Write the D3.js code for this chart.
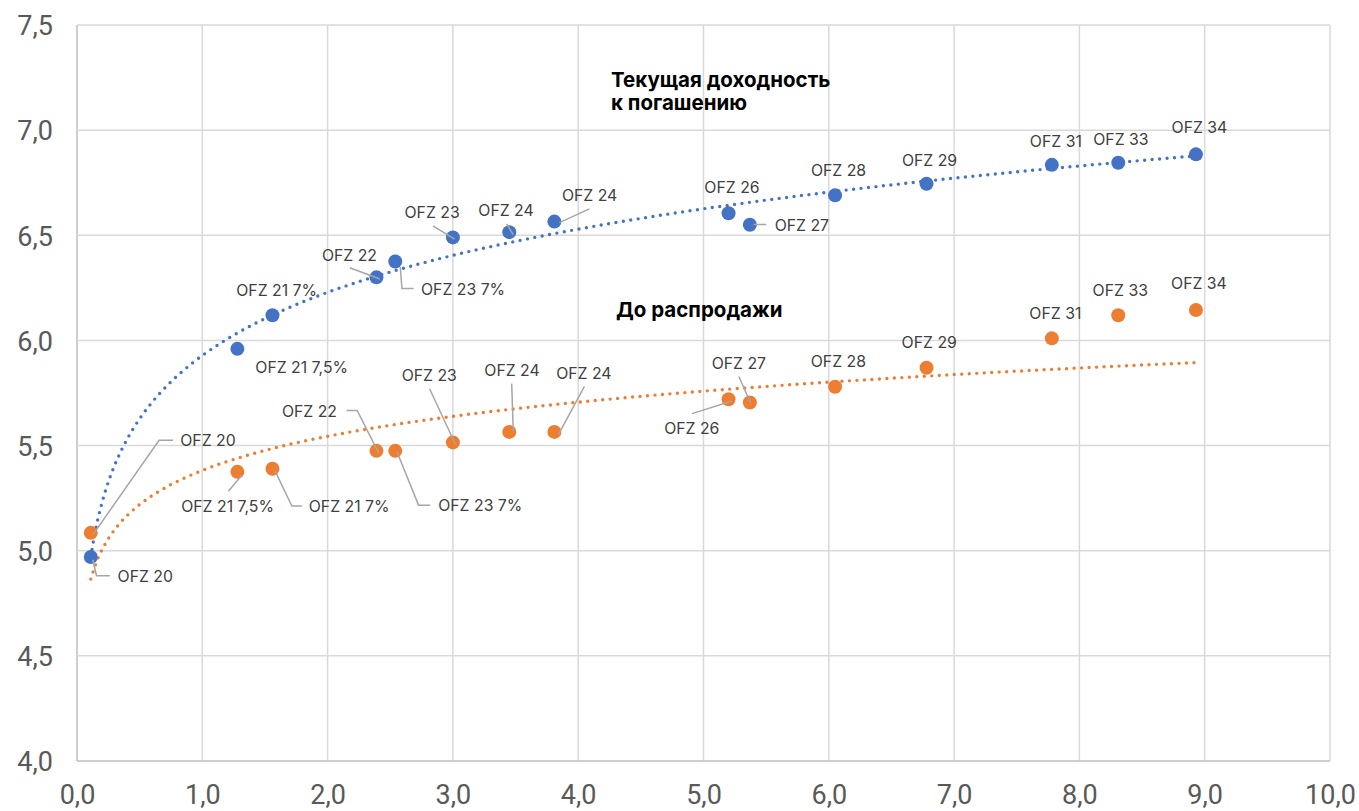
<!DOCTYPE html>
<html><head><meta charset="utf-8">
<script src="https://cdn.jsdelivr.net/npm/d3@7"></script>
<style>
html,body{margin:0;padding:0;background:#fff;}
svg{display:block;font-family:Inter,Roboto,"Noto Sans",sans-serif;}
</style></head>
<body><svg id="chart" width="1359" height="811"></svg>
<script>
// ---- data ----
const bonds = ["OFZ 20","OFZ 21 7,5%","OFZ 21 7%","OFZ 22","OFZ 23 7%","OFZ 23","OFZ 24","OFZ 24","OFZ 26","OFZ 27","OFZ 28","OFZ 29","OFZ 31","OFZ 33","OFZ 34"];
const duration = [0.11,1.28,1.56,2.39,2.54,3.00,3.45,3.81,5.20,5.37,6.05,6.78,7.78,8.31,8.93];
const ytmCurrent = [4.97,5.96,6.12,6.30,6.375,6.49,6.515,6.565,6.605,6.55,6.69,6.745,6.835,6.845,6.885];
const ytmBefore = [5.085,5.375,5.39,5.475,5.475,5.515,5.565,5.565,5.72,5.705,5.78,5.87,6.01,6.12,6.145];
const xTicks = [0,1,2,3,4,5,6,7,8,9,10];
const yTicks = [4.0,4.5,5.0,5.5,6.0,6.5,7.0,7.5];
const seriesNames = ["Текущая доходность к погашению","До распродажи"];

// ---- label layout (pixel offsets from the marker) ----
const labelsCurrent = [
  {dx:54.5,dy:25.4,lead:[[2,2.7],[5.7,18.7],[19,18.7]]},
  {dx:64.3,dy:23.7},
  {dx:4.2,dy:-19.3},
  {dx:-27,dy:-16.3,lead:[[-26.7,-9.6],[3.3,1.7]]},
  {dx:67.8,dy:33,lead:[[5,5.4],[6.7,27],[18.3,27]]},
  {dx:-20.8,dy:-19.6,lead:[[-20,-11.6],[1.7,1.7]]},
  {dx:-3.3,dy:-16.6,lead:[[-2.6,-8.3],[4,2.7]]},
  {dx:35.2,dy:-20.7,lead:[[35,-12.7],[5,1]]},
  {dx:3.4,dy:-20},
  {dx:52,dy:6.7,lead:[[3.6,-0.3],[16.4,-0.3]]},
  {dx:3.5,dy:-19},
  {dx:3,dy:-17.5},
  {dx:4,dy:-17.7},
  {dx:2.7,dy:-17.7},
  {dx:3.5,dy:-21}
];
const labelsBefore = [
  {dx:117.2,dy:-86.6,lead:[[2.3,1.7],[68.3,-92.6],[82.3,-92.6]]},
  {dx:-9.8,dy:40,lead:[[-9,19.3],[4.4,3.3]]},
  {dx:76.7,dy:43.4,lead:[[2.7,2.4],[19.4,37.4],[29.4,37.4]]},
  {dx:-67,dy:-34.3,lead:[[-30,-40.3],[-19.3,-40.3],[2.3,2.3]]},
  {dx:85,dy:60,lead:[[1.7,1],[23.3,54.3],[35,54.3]]},
  {dx:-23.6,dy:-61,lead:[[-23.3,-53.7],[2.7,2.3]]},
  {dx:2.7,dy:-55.6,lead:[[2.4,-48.3],[4,-0.6]]},
  {dx:29.5,dy:-53.3,lead:[[30,-45.6],[4,2.7]]},
  {dx:-36.8,dy:34.3,lead:[[-36.6,14.3],[3.4,1.7]]},
  {dx:-11,dy:-33.7,lead:[[-11,-26],[0.7,0.6]]},
  {dx:3.3,dy:-19.4},
  {dx:2.7,dy:-20},
  {dx:3.5,dy:-19.7},
  {dx:2,dy:-19},
  {dx:3,dy:-21.3}
];

const colors = ["#4472C4","#ED7D31"];

const svg = d3.select("#chart");
const m = {left:77, right:1330, top:25, bottom:761};
const x = d3.scaleLinear().domain([0,10]).range([m.left,m.right]);
const y = d3.scaleLinear().domain([4,7.5]).range([m.bottom,m.top]);
const fmt = d => d3.format(".1f")(d).replace(".",",");

// grid
const g = svg.append("g");
g.selectAll(".vg").data(xTicks).join("line")
  .attr("x1",d=>x(d)).attr("x2",d=>x(d)).attr("y1",m.top).attr("y2",m.bottom)
  .attr("stroke",d=>d===0?"#bfbfbf":"#d9d9d9").attr("stroke-width",1.5);
g.selectAll(".hg").data(yTicks).join("line")
  .attr("x1",m.left).attr("x2",m.right).attr("y1",d=>y(d)).attr("y2",d=>y(d))
  .attr("stroke",d=>d===4?"#bfbfbf":"#d9d9d9").attr("stroke-width",1.5);

// axes labels via d3 axes
const yAxis = svg.append("g").attr("transform",`translate(${m.left},0)`)
  .call(d3.axisLeft(y).tickValues(yTicks).tickFormat(fmt).tickSize(0).tickPadding(24));
const xAxis = svg.append("g").attr("transform",`translate(0,${m.bottom})`)
  .call(d3.axisBottom(x).tickValues(xTicks).tickFormat(fmt).tickSize(0).tickPadding(24));
[yAxis,xAxis].forEach(a=>{
  a.select(".domain").remove();
  a.selectAll("text").attr("fill","#595959").style("font-size","27px").style("font-family","Roboto, sans-serif");
});
yAxis.selectAll("text").attr("dy","0.36em");
xAxis.selectAll("text").attr("dy","0.71em");

// trendlines (logarithmic least-squares fit, like Excel)
function logFit(xs, ys){
  const L = xs.map(Math.log);
  const mL = d3.mean(L), mY = d3.mean(ys);
  const sxy = d3.sum(L.map((l,i)=>(l-mL)*(ys[i]-mY)));
  const sxx = d3.sum(L.map(l=>(l-mL)*(l-mL)));
  const b = sxy/sxx, a = mY - b*mL;
  return v => a + b*Math.log(v);
}
const [xmin,xmax] = d3.extent(duration);
[ytmCurrent,ytmBefore].forEach((ys,si)=>{
  const f = logFit(duration, ys);
  const pts = d3.range(0,301).map(i=>xmin+(xmax-xmin)*i/300).map(v=>[v,f(v)]);
  svg.append("path").datum(pts)
    .attr("d", d3.line().x(d=>x(d[0])).y(d=>y(d[1])))
    .attr("fill","none").attr("stroke",colors[si]).attr("stroke-width",3.4)
    .attr("stroke-linecap","round").attr("stroke-dasharray","0 7.5");
});

// markers, leaders, labels
[[ytmCurrent,labelsCurrent],[ytmBefore,labelsBefore]].forEach(([ys,lay],si)=>{
  const pts = duration.map((d,i)=>({x:x(d),y:y(ys[i]),name:bonds[i],lay:lay[i]}));
  svg.append("g").selectAll("circle").data(pts).join("circle")
    .attr("cx",d=>d.x).attr("cy",d=>d.y).attr("r",7).attr("fill",colors[si]);
  svg.append("g").selectAll("path").data(pts.filter(d=>d.lay.lead)).join("path")
    .attr("d",d=>d3.line()(d.lay.lead.map(p=>[d.x+p[0],d.y+p[1]])))
    .attr("fill","none").attr("stroke","#a6a6a6").attr("stroke-width",1.5);
  svg.append("g").selectAll("text").data(pts).join("text")
    .attr("x",d=>d.x+d.lay.dx).attr("y",d=>d.y+d.lay.dy)
    .attr("text-anchor","middle").attr("fill","#404040")
    .style("font-size","15.8px").text(d=>d.name);
});

// series annotations
const ann = svg.append("g").attr("font-weight","bold").attr("fill","#000").style("font-size","20.5px");
ann.append("text").attr("x",611).attr("y",87).text("Текущая доходность");
ann.append("text").attr("x",611).attr("y",110).text("к погашению");
ann.append("text").attr("x",616).attr("y",317).text(seriesNames[1]);
</script></body></html>
